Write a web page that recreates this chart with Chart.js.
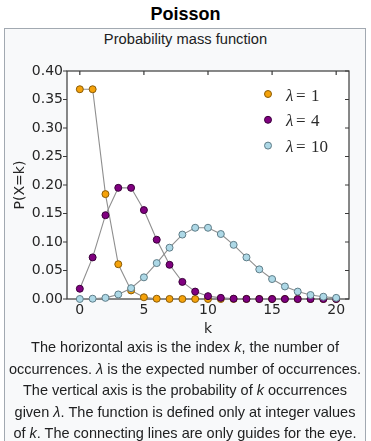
<!DOCTYPE html>
<html><head><meta charset="utf-8">
<script src="https://cdn.jsdelivr.net/npm/chart.js@4"></script>
<style>
html,body{margin:0;padding:0;background:#fff;width:371px;height:441px;overflow:hidden;}
#title{position:absolute;left:0;top:2px;width:371px;text-align:center;font:bold 18px "Liberation Sans",Arial,sans-serif;color:#000;line-height:24px;}
#box{position:absolute;left:4px;top:28px;width:360px;height:430px;border:1px solid #a2a9b1;background:#f8f9fa;}
#cap{position:absolute;left:0;top:30px;width:371px;text-align:center;font:14.7px "Liberation Sans",Arial,sans-serif;color:#202122;line-height:18px;}
#wrap{position:absolute;left:5px;top:55px;width:361px;height:285px;}
#desc{position:absolute;left:4px;top:337px;width:362px;text-align:center;font:14.5px "Liberation Sans",Arial,sans-serif;color:#202122;line-height:21.5px;white-space:nowrap;}
</style></head>
<body>
<div id="title">Poisson</div>
<div id="box"></div>
<div id="cap">Probability mass function</div>
<div id="wrap"><canvas id="c" width="361" height="285"></canvas></div>
<div id="desc">The horizontal axis is the index <i>k</i>, the number of<br>occurrences. <i>λ</i> is the expected number of occurrences.<br>The vertical axis is the probability of <i>k</i> occurrences<br>given <i>λ</i>. The function is defined only at integer values<br>of <i>k</i>. The connecting lines are only guides for the eye.</div>
<script>
// ---- data ----
const kValues = [0,1,2,3,4,5,6,7,8,9,10,11,12,13,14,15,16,17,18,19,20];
const lambdaValues = ['1','4','10'];
const pLambda1 = [0.368,0.368,0.184,0.061,0.015,0.003,0.0005,0.0001,0,0,0,0,0,0,0,0,0,0,0,0,0];
const pLambda4 = [0.018,0.073,0.147,0.195,0.195,0.156,0.104,0.060,0.030,0.013,0.005,0.002,0.0006,0.0002,0,0,0,0,0,0,0];
const pLambda10 = [0.00005,0.0005,0.002,0.008,0.019,0.038,0.063,0.090,0.113,0.125,0.125,0.114,0.095,0.073,0.052,0.035,0.022,0.013,0.007,0.004,0.002];
const xTickValues = [0,5,10,15,20];
const xTickLabels = ['0','5','10','15','20'];
const yTickValues = [0,0.05,0.10,0.15,0.20,0.25,0.30,0.35,0.40];
const yTickLabels = ['0.00','0.05','0.10','0.15','0.20','0.25','0.30','0.35','0.40'];

const fills = ['#f5a20a','#800080','#add8e6'];
const edges = ['#8a5c08','#3a003a','#5f7d88'];
const seriesList = [pLambda1,pLambda4,pLambda10];

const frameColor = '#3a3a3a';
const tickFont = {family:'"DejaVu Sans"', size:14};

const plugin = {
  id:'decor',
  beforeDraw(chart){
    const {ctx, chartArea:a} = chart;
    ctx.save();
    ctx.fillStyle='#ffffff';
    ctx.fillRect(a.left,a.top,a.right-a.left,a.bottom-a.top);
    ctx.restore();
  },
  beforeDatasetsDraw(chart){
    const {ctx, chartArea:a, scales:{x,y}} = chart;
    ctx.save();
    ctx.strokeStyle = frameColor; ctx.lineWidth = 1.2;
    ctx.strokeRect(a.left, a.top, a.right-a.left, a.bottom-a.top);
    ctx.beginPath();
    xTickValues.forEach(v=>{const p=x.getPixelForValue(v);
      ctx.moveTo(p,a.top); ctx.lineTo(p,a.top+4);});
    yTickValues.forEach(v=>{const p=y.getPixelForValue(v);
      ctx.moveTo(a.left,p); ctx.lineTo(a.left-4,p);
      ctx.moveTo(a.right,p); ctx.lineTo(a.right-4,p);});
    ctx.stroke();
    ctx.fillStyle = '#262626';
    ctx.font = '14px "DejaVu Sans"';
    ctx.textAlign='center'; ctx.textBaseline='alphabetic';
    ctx.fillText('k', (a.left+a.right)/2, 277.5);
    ctx.translate(19,(a.top+a.bottom)/2);
    ctx.rotate(-Math.PI/2);
    ctx.fillText('P(X=k)',0,0);
    ctx.restore();
  },
  afterDraw(chart){
    const {ctx, chartArea:a} = chart;
    ctx.save();
    lambdaValues.forEach((lv,i)=>{
      const my = a.top + 23 + i*25.8;
      const mx = a.right - 81;
      ctx.beginPath(); ctx.arc(mx,my,3.5,0,Math.PI*2);
      ctx.fillStyle=fills[i]; ctx.fill();
      ctx.lineWidth=1; ctx.strokeStyle=edges[i]; ctx.stroke();
      const tx = a.right - 63;
      ctx.fillStyle='#2a2a2a'; ctx.textBaseline='alphabetic'; ctx.textAlign='left';
      ctx.font='italic 17px "Liberation Serif"';
      ctx.fillText('λ', tx, my+6.5);
      ctx.font='17px "Liberation Serif"';
      ctx.fillText('=', tx+10, my+6.5);
      ctx.fillText(lv, tx+25, my+6.5);
    });
    ctx.restore();
  }
};

const datasets = seriesList.map((s,i)=>({
  label:'λ='+lambdaValues[i],
  data:kValues.map((k,j)=>({x:k,y:s[j]})),
  borderColor:'#8f8f8f', borderWidth:1.1,
  pointRadius:3.5, pointHoverRadius:3.5, pointBorderWidth:1,
  pointBackgroundColor:fills[i], pointBorderColor:edges[i],
  tension:0, fill:false, clip:false, order:3-i
}));

new Chart(document.getElementById('c'),{
  type:'line',
  data:{datasets},
  options:{
    responsive:false, animation:false, devicePixelRatio:1,
    layout:{padding:{top:16,right:17,left:0,bottom:0}},
    plugins:{legend:{display:false},tooltip:{enabled:false}},
    scales:{
      x:{type:'linear',min:-1,max:21,
        grid:{display:false,drawTicks:false},border:{display:false},
        ticks:{font:tickFont,color:'#262626',padding:3,maxRotation:0,
          callback:(v,i)=>xTickLabels[i]},
        afterBuildTicks:s=>{s.ticks=xTickValues.map(v=>({value:v}));},
        afterFit:s=>{s.height=41;}},
      y:{type:'linear',min:0,max:0.4,
        grid:{display:false,drawTicks:false},border:{display:false},
        ticks:{font:tickFont,color:'#262626',padding:4,
          callback:(v,i)=>yTickLabels[i]},
        afterBuildTicks:s=>{s.ticks=yTickValues.map(v=>({value:v}));},
        afterFit:s=>{s.width=62;}}
    }
  },
  plugins:[plugin]
});
</script>
</body></html>
